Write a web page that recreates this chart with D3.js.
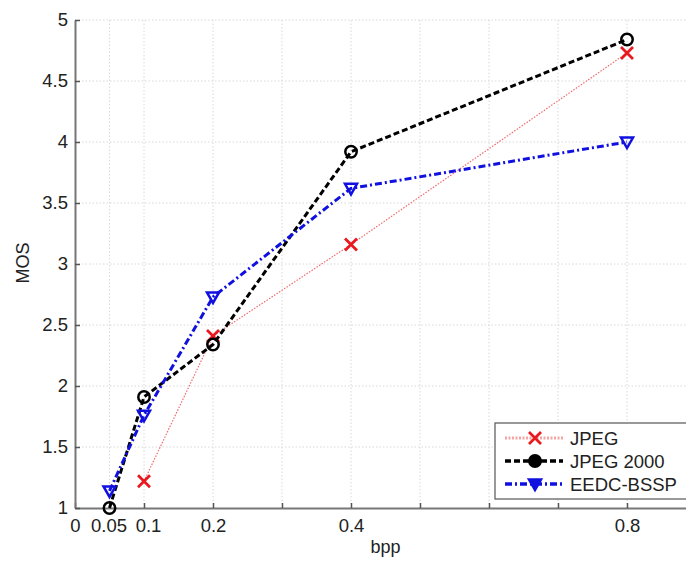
<!DOCTYPE html>
<html>
<head>
<meta charset="utf-8">
<script src="https://d3js.org/d3.v7.min.js"></script>
<style>
  body { margin: 0; background: #fff; }
  svg { display: block; font-family: "Liberation Sans", Arial, sans-serif; }
  .grid line { stroke: #d8d8d8; stroke-width: 1; stroke-dasharray: 1.5,2; }
  .tick text { font-size: 18.5px; fill: #222; }
  .lbl { font-size: 18px; fill: #222; }
</style>
</head>
<body>
<svg id="chart" width="686" height="561"></svg>
<script>
const bpp = [0.05, 0.1, 0.2, 0.4, 0.8];
const jpeg = [null, 1.22, 2.41, 3.16, 4.73];
const jpeg2000 = [1.0, 1.91, 2.34, 3.92, 4.84];
const eedc = [1.14, 1.76, 2.73, 3.62, 4.0];
const seriesNames = ["JPEG", "JPEG 2000", "EEDC-BSSP"];
const xTicks = [0, 0.05, 0.1, 0.2, 0.3, 0.4, 0.5, 0.6, 0.7, 0.8];
const xLabels = {0: "0", 0.05: "0.05", 0.1: "0.1", 0.2: "0.2", 0.4: "0.4", 0.8: "0.8"};
const yTicks = [1, 1.5, 2, 2.5, 3, 3.5, 4, 4.5, 5];

const svg = d3.select("#chart");
const mLeft = 75, mTop = 20, mBottom = 508;

const x = d3.scaleLinear().domain([0, 0.9]).range([mLeft, mLeft + 0.9 * 690]);
const y = d3.scaleLinear().domain([1, 5]).range([mBottom, mTop]);

// grid
const grid = svg.append("g").attr("class", "grid");
grid.selectAll(".gx").data(xTicks.slice(1)).join("line")
    .attr("x1", d => x(d)).attr("x2", d => x(d))
    .attr("y1", mTop).attr("y2", mBottom);
grid.selectAll(".gy").data(yTicks.slice(1)).join("line")
    .attr("x1", mLeft).attr("x2", 690)
    .attr("y1", d => y(d)).attr("y2", d => y(d));

// axes
const xAxis = svg.append("g")
    .attr("transform", `translate(0,${mBottom})`)
    .call(d3.axisBottom(x).tickValues(xTicks).tickSizeInner(-5).tickSizeOuter(0)
        .tickPadding(11).tickFormat(d => xLabels[d] || ""));
const yAxis = svg.append("g")
    .attr("transform", `translate(${mLeft},0)`)
    .call(d3.axisLeft(y).tickValues(yTicks).tickSizeInner(-5).tickSizeOuter(0)
        .tickPadding(7).tickFormat(d3.format("")));
[xAxis, yAxis].forEach(a => {
  a.select(".domain").attr("stroke", "#777").attr("stroke-width", 2);
  a.selectAll(".tick line").attr("stroke", "#555").attr("stroke-width", 1.5);
});
// squeeze "0.05" and "0.1" labels the way the original does
xAxis.selectAll(".tick text").filter(d => d === 0.05).attr("dx", -1);
xAxis.selectAll(".tick text").filter(d => d === 0.1).attr("dx", 4);

svg.append("text").attr("class", "lbl")
    .attr("x", x(0.45)).attr("y", 553).attr("text-anchor", "middle").text("bpp");
svg.append("text").attr("class", "lbl")
    .attr("transform", `translate(29,${y(3) - 1}) rotate(-90)`)
    .attr("text-anchor", "middle").text("MOS");

const styles = [
  {vals: jpeg, color: "#f06a6a", width: 1.2, dash: "1.5,1.5", marker: "x", mcolor: "#e8191f"},
  {vals: jpeg2000, color: "#000", width: 3, dash: "6,3", marker: "o", mcolor: "#000"},
  {vals: eedc, color: "#1010e0", width: 3, dash: "7,3,2,3", marker: "v", mcolor: "#1010e0"}
];

function drawMarker(g, type, color, cx, cy, s, filled) {
  if (type === "x") {
    g.append("path").attr("d", `M${cx - s},${cy - s}L${cx + s},${cy + s}M${cx - s},${cy + s}L${cx + s},${cy - s}`)
      .attr("stroke", color).attr("stroke-width", 2.8).attr("fill", "none");
  } else if (type === "o") {
    g.append("circle").attr("cx", cx).attr("cy", cy).attr("r", s * 0.95)
      .attr("stroke", color).attr("stroke-width", 2.5).attr("fill", filled ? color : "none");
  } else {
    g.append("path").attr("d", `M${cx - s},${cy - s * 0.75}L${cx + s},${cy - s * 0.75}L${cx},${cy + s}Z`)
      .attr("stroke", color).attr("stroke-width", 2.5).attr("fill", filled ? color : "none");
  }
}

const line = d3.line().defined(d => d[1] != null).x(d => x(d[0])).y(d => y(d[1]));
styles.forEach(st => {
  const pts = bpp.map((b, i) => [b, st.vals[i]]);
  svg.append("path").datum(pts).attr("d", line)
     .attr("fill", "none").attr("stroke", st.color)
     .attr("stroke-width", st.width).attr("stroke-dasharray", st.dash);
  const g = svg.append("g");
  pts.filter(d => d[1] != null).forEach(d => drawMarker(g, st.marker, st.mcolor, x(d[0]), y(d[1]), 6, false));
});

// legend
const lg = svg.append("g");
lg.append("rect").attr("x", 495).attr("y", 423).attr("width", 200).attr("height", 76)
  .attr("fill", "#fff").attr("stroke", "#555").attr("stroke-width", 1.2);
styles.forEach((st, i) => {
  const ly = 438 + i * 23;
  lg.append("line").attr("x1", 505).attr("x2", 563).attr("y1", ly).attr("y2", ly)
    .attr("stroke", st.color).attr("stroke-width", st.width === 3 ? 3.5 : 3)
    .attr("stroke-dasharray", st.marker === "x" ? "2,1.5" : st.dash)
    .attr("opacity", st.marker === "x" ? 0.6 : 1);
  drawMarker(lg, st.marker, st.mcolor, 535, ly, 6, st.marker !== "x");
  lg.append("text").attr("class", "lbl").attr("x", 570).attr("y", ly + 7)
    .style("font-size", "18.5px").text(seriesNames[i]);
});
</script>
</body>
</html>
